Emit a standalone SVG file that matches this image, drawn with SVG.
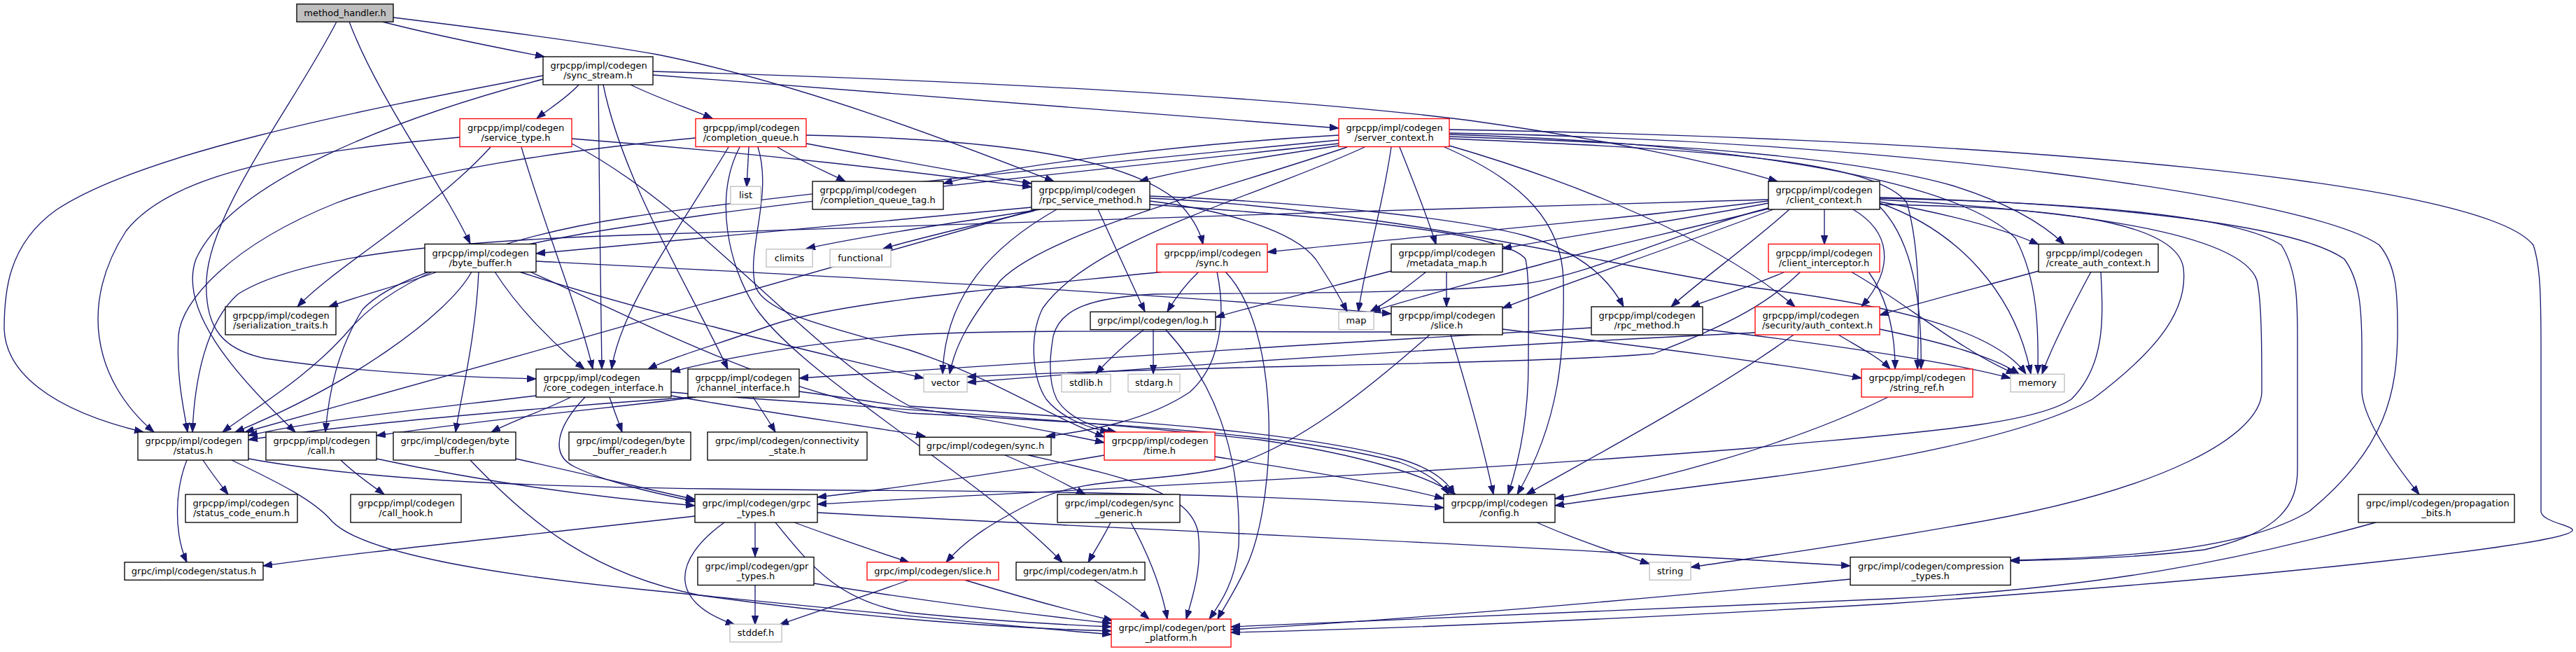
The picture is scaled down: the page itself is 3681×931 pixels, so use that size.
<svg xmlns="http://www.w3.org/2000/svg" width="3681" height="931" viewBox="0 0 3681 931">
<style>
.n rect{fill:#ffffff;stroke:#000000;stroke-width:1.33}
.n.ext rect{stroke:#bfbfbf}
.n.red rect{stroke:#ff0000}
.n.root rect{fill:#bfbfbf}
.n text{font-family:"DejaVu Sans","Liberation Sans",sans-serif;font-size:13px;fill:#000000}
.n text.c{text-anchor:middle}
#edges path{fill:none;stroke:#191970;stroke-width:1.33}
</style>
<defs>
<marker id="arr" markerWidth="14" markerHeight="10" refX="13" refY="4.7" orient="auto" markerUnits="userSpaceOnUse">
<path d="M0,0 L13,4.7 L0,9.4 z" fill="#191970" stroke="#191970" stroke-width="1"/>
</marker>
</defs>
<rect x="0" y="0" width="3681" height="931" fill="#ffffff"/>
<g id="edges" marker-end="url(#arr)">
<path d="M546,31 C620,50 710,68 778,81"/>
<path d="M499,31 C540,140 630,260 672,348"/>
<path d="M481,31 C420,150 300,300 295,400 C292,470 320,500 380,512 C500,530 640,538 766,541"/>
<path d="M562,25 C700,42 850,62 940,78 C1150,120 1380,210 1506,259"/>
<path d="M827,121 C810,140 785,155 767,169"/>
<path d="M901,121 C940,140 985,155 1018,169"/>
<path d="M933,107 C1300,135 1650,160 1913,183"/>
<path d="M933,102 C1400,115 1850,140 2100,172 C2300,200 2450,232 2540,259"/>
<path d="M776,113 C560,170 330,260 280,370 C255,440 330,530 422,617"/>
<path d="M862,121 C890,260 990,420 1040,527"/>
<path d="M855,121 C856,250 858,400 860,527"/>
<path d="M776,108 C500,160 200,220 80,300 C10,350 6,420 6,470 C8,530 70,585 205,617"/>
<path d="M657,196 C450,215 250,240 180,330 C115,430 130,540 220,617"/>
<path d="M701,210 C620,300 480,380 425,438"/>
<path d="M745,210 C780,330 830,450 847,527"/>
<path d="M817,198 C1100,220 1300,245 1474,267"/>
<path d="M817,205 C1000,300 1150,500 1300,580 C1600,600 1850,615 2000,655 C2050,670 2070,690 2078,706"/>
<path d="M994,197 C800,215 600,245 480,290 C330,350 258,430 255,480 C252,540 262,580 268,617"/>
<path d="M1041,210 C1000,280 930,380 900,447 C885,480 877,505 874,527"/>
<path d="M1070,210 C1069,230 1068,250 1067,267"/>
<path d="M1111,210 C1140,228 1180,245 1208,259"/>
<path d="M1152,205 C1260,225 1380,248 1474,262"/>
<path d="M1152,193 C1400,198 1600,220 1680,285 C1705,310 1715,330 1719,349"/>
<path d="M1083,210 C1105,280 1065,360 1080,410 C1095,450 1200,470 1300,500 C1420,540 1500,595 1578,624"/>
<path d="M1057,210 C1020,280 1040,380 1080,440 C1150,540 1400,680 1518,803"/>
<path d="M1913,193 C1700,205 1450,235 1348,262"/>
<path d="M1913,208 C1800,225 1700,240 1628,259"/>
<path d="M1913,200 C1500,240 1100,280 900,310 C700,340 560,400 500,470 C440,540 360,585 318,617"/>
<path d="M1913,205 C1500,250 1100,290 920,320 C700,352 565,392 518,442 C482,500 470,560 465,617"/>
<path d="M1988,210 C1975,300 1950,380 1941,445"/>
<path d="M2000,210 C2020,260 2040,310 2052,349"/>
<path d="M2064,210 C2180,260 2232,320 2234,400 C2236,500 2230,600 2168,706"/>
<path d="M1950,210 C1800,280 1560,340 1490,440 C1470,480 1475,540 1495,570 C1515,595 1550,610 1585,617"/>
<path d="M2071,208 C2250,260 2450,340 2565,438"/>
<path d="M2071,195 C2400,205 2650,225 2790,265 C2870,290 2920,320 2950,349"/>
<path d="M2071,198 C2400,212 2680,225 2725,290 C2745,360 2742,450 2740,527"/>
<path d="M2071,192 C2500,205 2800,260 2880,340 C2912,400 2913,470 2912,534"/>
<path d="M2071,190 C2700,200 3300,280 3400,350 C3425,380 3426,420 3426,470 C3426,560 3410,640 3300,730 C3200,790 3000,797 2873,800"/>
<path d="M2071,185 C2900,200 3550,260 3620,350 C3630,380 3631,420 3631,500 L3631,730 C3631,745 3676,750 3676,757 C3676,775 3300,820 2700,862 C2300,885 2000,898 1759,903"/>
<path d="M1925,210 C1750,270 1500,330 1430,400 C1390,450 1365,490 1357,534"/>
<path d="M2686,283 C3000,290 3200,310 3260,350 C3285,390 3283,440 3283,500 L3283,670 C3283,720 3260,760 3150,785 C3050,797 2950,799 2873,801"/>
<path d="M2686,282 C3000,290 3280,320 3350,370 C3372,400 3375,440 3375,500 L3375,560 C3378,600 3420,660 3457,706"/>
<path d="M2607,299 L2607,349"/>
<path d="M2527,290 C2400,315 2250,335 2147,355"/>
<path d="M2527,298 C2400,330 2280,355 2200,378 C2100,405 2020,425 1960,445"/>
<path d="M2534,299 C2400,350 2250,400 2147,440"/>
<path d="M2557,299 C2500,350 2430,400 2388,438"/>
<path d="M2648,299 C2700,330 2710,380 2660,438"/>
<path d="M2527,287 C2300,315 2000,340 1811,360"/>
<path d="M2527,285 C2000,300 1300,320 920,335 C600,345 420,370 340,420 C295,460 278,540 275,617"/>
<path d="M2686,292 C2900,295 3110,310 3120,383 C3128,450 3070,510 2990,570 C2900,620 2700,660 2500,685 C2380,700 2300,710 2222,722"/>
<path d="M2527,297 C2400,330 2280,390 2180,405 C2050,420 1800,418 1650,420 C1560,425 1515,440 1505,480 C1498,520 1500,550 1510,570 C1525,595 1560,610 1595,617"/>
<path d="M2686,295 C2730,340 2747,420 2745,527"/>
<path d="M2686,290 C2800,330 2880,420 2902,534"/>
<path d="M2686,285 C2950,300 3200,330 3225,400 C3232,430 3232,500 3232,560 C3230,620 3100,700 2800,750 C2600,785 2480,800 2416,810"/>
<path d="M2686,288 C2780,305 2860,325 2913,349"/>
<path d="M2551,388 C2500,410 2450,425 2416,438"/>
<path d="M2670,388 C2700,430 2708,480 2708,527"/>
<path d="M2645,388 C2720,430 2800,500 2880,534"/>
<path d="M2573,388 C2530,430 2480,460 2363,505 C2200,520 1700,522 1382,538"/>
<path d="M2913,387 C2830,410 2750,430 2686,450"/>
<path d="M2988,388 C2960,440 2930,500 2918,534"/>
<path d="M3002,388 C3005,450 3010,520 2960,570 C2900,610 2700,620 2500,640 C2000,680 1500,700 1168,720"/>
<path d="M2038,388 C2010,410 1985,430 1958,445"/>
<path d="M2067,388 L2067,438"/>
<path d="M1988,387 C1900,410 1800,435 1737,453"/>
<path d="M1713,388 C1695,405 1680,425 1668,445"/>
<path d="M1739,388 C1752,450 1745,520 1700,560 C1640,600 1560,615 1495,623"/>
<path d="M1751,388 C1830,470 1825,700 1785,800 C1768,840 1750,865 1740,884"/>
<path d="M1663,388 C1450,410 1200,430 1100,465 C1030,490 960,510 926,527"/>
<path d="M1634,471 C1610,490 1585,512 1566,534"/>
<path d="M1648,471 L1648,534"/>
<path d="M1666,471 C1730,540 1775,640 1770,780 C1765,830 1745,860 1728,884"/>
<path d="M993,737 C700,770 500,790 376,808"/>
<path d="M1079,746 L1079,795"/>
<path d="M1035,746 C960,800 955,860 1050,892"/>
<path d="M1135,746 C1200,770 1260,790 1299,803"/>
<path d="M1108,746 C1160,810 1200,860 1300,875 C1420,887 1520,892 1588,895"/>
<path d="M1168,732 C1600,755 2200,780 2644,808"/>
<path d="M1079,835 L1079,892"/>
<path d="M1163,833 C1300,855 1450,875 1588,890"/>
<path d="M1299,828 C1240,850 1170,872 1114,892"/>
<path d="M1378,828 C1450,850 1530,872 1590,886"/>
<path d="M1563,828 C1590,845 1620,865 1642,884"/>
<path d="M1587,746 C1578,765 1565,785 1555,803"/>
<path d="M1616,746 C1640,790 1660,840 1668,884"/>
<path d="M1434,649 C1480,668 1520,690 1551,706"/>
<path d="M1466,649 C1600,680 1700,700 1712,760 C1718,810 1705,850 1695,884"/>
<path d="M1578,650 C1430,675 1300,695 1168,710"/>
<path d="M1736,652 C1850,670 1980,690 2063,712"/>
<path d="M267,657 C250,700 248,760 267,803"/>
<path d="M290,657 C302,675 315,692 326,706"/>
<path d="M331,657 C400,690 450,715 475,745 C520,790 700,820 920,842 C1200,870 1450,895 1588,906"/>
<path d="M355,655 C550,690 800,697 1200,700 C1600,702 1900,710 2063,725"/>
<path d="M487,657 C505,675 530,692 549,706"/>
<path d="M538,655 C700,690 850,710 993,722"/>
<path d="M737,655 C850,680 930,700 993,713"/>
<path d="M672,657 C760,750 850,820 1000,850 C1250,885 1450,897 1588,901"/>
<path d="M871,567 C877,585 883,600 889,617"/>
<path d="M816,567 C780,585 735,600 702,617"/>
<path d="M836,567 C795,610 785,650 822,667 C870,690 940,705 993,716"/>
<path d="M959,565 C1100,590 1250,610 1322,623"/>
<path d="M959,560 C1200,580 1500,595 1800,628 C1950,650 2040,680 2080,706"/>
<path d="M766,565 C600,585 450,600 355,622"/>
<path d="M1076,567 C1088,585 1098,600 1108,617"/>
<path d="M990,567 C800,580 500,605 355,628"/>
<path d="M995,567 C900,580 750,592 538,622"/>
<path d="M1142,559 C1300,580 1450,605 1578,632"/>
<path d="M625,388 C580,405 520,420 470,438"/>
<path d="M674,388 C640,450 500,550 336,617"/>
<path d="M684,388 C680,480 660,560 651,617"/>
<path d="M707,388 C740,440 790,490 835,527"/>
<path d="M742,388 C900,440 1150,500 1320,540"/>
<path d="M757,388 C900,450 1100,560 1300,590 C1600,605 1850,620 2000,660 C2040,675 2060,690 2070,706"/>
<path d="M766,373 C1100,390 1600,415 1988,448"/>
<path d="M1487,299 C1350,320 1230,338 1152,355"/>
<path d="M1478,301 C1400,320 1320,338 1262,355"/>
<path d="M1643,287 C1750,300 1850,330 1880,370 C1900,400 1915,425 1925,445"/>
<path d="M1643,283 C2000,300 2300,380 2500,410 C2700,435 2850,470 2895,534"/>
<path d="M1510,299 C1420,350 1350,420 1347,534"/>
<path d="M1569,299 C1590,345 1615,400 1636,445"/>
<path d="M1474,296 C1200,320 950,345 766,362"/>
<path d="M1643,292 C1900,310 2150,330 2180,370 C2186,400 2184,450 2184,520 C2184,600 2170,660 2155,706"/>
<path d="M1643,280 C1900,290 2100,315 2181,337 C2260,360 2300,400 2320,438"/>
<path d="M1480,299 C1200,380 700,520 350,617"/>
<path d="M1988,474 C1700,474 1450,470 1300,478 C1150,490 1040,510 959,531"/>
<path d="M2147,470 C2350,495 2550,520 2660,540"/>
<path d="M2073,478 C2095,550 2118,630 2134,706"/>
<path d="M2043,478 C1950,560 1850,640 1750,668 C1650,690 1550,680 1480,715 C1420,745 1380,770 1352,803"/>
<path d="M2274,468 C1900,490 1500,515 1142,540"/>
<path d="M2433,470 C2600,490 2780,515 2873,540"/>
<path d="M2563,478 C2450,560 2280,650 2181,706"/>
<path d="M2627,478 C2655,495 2685,510 2701,527"/>
<path d="M2508,475 C2100,495 1700,520 1382,546"/>
<path d="M2686,470 C2780,490 2850,510 2885,534"/>
<path d="M2698,567 C2550,640 2350,690 2222,712"/>
<path d="M2196,746 C2250,770 2310,790 2357,805"/>
<path d="M3395,746 C3200,800 3000,840 2700,855 C2300,870 2000,885 1759,895"/>
<path d="M2644,827 C2300,860 2000,885 1759,899"/>
</g>
<g id="node-method_handler" class="n root"><rect x="424" y="5.8" width="138" height="25.4"/><text class="c" x="493" y="22.5">method_handler.h</text></g>
<g id="node-sync_stream" class="n"><rect x="776" y="81" width="157" height="40"/><text x="786.5" y="98">grpcpp/impl/codegen</text><text class="c" x="854.5" y="112">/sync_stream.h</text></g>
<g id="node-service_type" class="n red"><rect x="657" y="169.5" width="160" height="40"/><text x="668" y="186.5">grpcpp/impl/codegen</text><text class="c" x="737" y="200.5">/service_type.h</text></g>
<g id="node-completion_queue" class="n red"><rect x="994" y="169.5" width="158" height="40"/><text x="1004.5" y="186.5">grpcpp/impl/codegen</text><text class="c" x="1073" y="200.5">/completion_queue.h</text></g>
<g id="node-server_context" class="n red"><rect x="1913" y="169.5" width="158" height="40"/><text x="1923.5" y="186.5">grpcpp/impl/codegen</text><text class="c" x="1992" y="200.5">/server_context.h</text></g>
<g id="node-completion_queue_tag" class="n"><rect x="1161" y="259" width="187" height="40"/><text x="1171.5" y="276">grpcpp/impl/codegen</text><text class="c" x="1254.5" y="290">/completion_queue_tag.h</text></g>
<g id="node-list" class="n ext"><rect x="1044" y="266.3" width="43" height="25.4"/><text class="c" x="1065.5" y="283">list</text></g>
<g id="node-rpc_service_method" class="n"><rect x="1474" y="259" width="169" height="40"/><text x="1484.5" y="276">grpcpp/impl/codegen</text><text class="c" x="1558.5" y="290">/rpc_service_method.h</text></g>
<g id="node-client_context" class="n"><rect x="2527" y="259" width="159" height="40"/><text x="2537.5" y="276">grpcpp/impl/codegen</text><text class="c" x="2606.5" y="290">/client_context.h</text></g>
<g id="node-climits" class="n ext"><rect x="1095" y="355.8" width="66" height="25.4"/><text class="c" x="1128" y="372.5">climits</text></g>
<g id="node-functional" class="n ext"><rect x="1186" y="355.8" width="87" height="25.4"/><text class="c" x="1229.5" y="372.5">functional</text></g>
<g id="node-byte_buffer" class="n"><rect x="607" y="348.5" width="159" height="40"/><text x="617.5" y="365.5">grpcpp/impl/codegen</text><text class="c" x="686.5" y="379.5">/byte_buffer.h</text></g>
<g id="node-sync" class="n red"><rect x="1653" y="348.5" width="158" height="40"/><text x="1663.5" y="365.5">grpcpp/impl/codegen</text><text class="c" x="1732" y="379.5">/sync.h</text></g>
<g id="node-metadata_map" class="n"><rect x="1988" y="348.5" width="159" height="40"/><text x="1998.5" y="365.5">grpcpp/impl/codegen</text><text class="c" x="2067.5" y="379.5">/metadata_map.h</text></g>
<g id="node-client_interceptor" class="n red"><rect x="2527" y="348.5" width="159" height="40"/><text x="2537.5" y="365.5">grpcpp/impl/codegen</text><text class="c" x="2606.5" y="379.5">/client_interceptor.h</text></g>
<g id="node-create_auth_context" class="n"><rect x="2913" y="348.5" width="171" height="40"/><text x="2923.5" y="365.5">grpcpp/impl/codegen</text><text class="c" x="2998.5" y="379.5">/create_auth_context.h</text></g>
<g id="node-serialization_traits" class="n"><rect x="322" y="438" width="158" height="40"/><text x="332.5" y="455">grpcpp/impl/codegen</text><text class="c" x="401" y="469">/serialization_traits.h</text></g>
<g id="node-log" class="n"><rect x="1558" y="445.3" width="179" height="25.4"/><text class="c" x="1647.5" y="462">grpc/impl/codegen/log.h</text></g>
<g id="node-map" class="n ext"><rect x="1913" y="445.3" width="50" height="25.4"/><text class="c" x="1938" y="462">map</text></g>
<g id="node-slice" class="n"><rect x="1988" y="438" width="159" height="40"/><text x="1998.5" y="455">grpcpp/impl/codegen</text><text class="c" x="2067.5" y="469">/slice.h</text></g>
<g id="node-rpc_method" class="n"><rect x="2274" y="438" width="159" height="40"/><text x="2284.5" y="455">grpcpp/impl/codegen</text><text class="c" x="2353.5" y="469">/rpc_method.h</text></g>
<g id="node-auth_context" class="n red"><rect x="2508" y="438" width="178" height="40"/><text x="2518.5" y="455">grpcpp/impl/codegen</text><text class="c" x="2597" y="469">/security/auth_context.h</text></g>
<g id="node-core_codegen_interface" class="n"><rect x="766" y="527" width="193" height="40"/><text x="776.5" y="544">grpcpp/impl/codegen</text><text class="c" x="862.5" y="558">/core_codegen_interface.h</text></g>
<g id="node-channel_interface" class="n"><rect x="983" y="527" width="159" height="40"/><text x="993.5" y="544">grpcpp/impl/codegen</text><text class="c" x="1062.5" y="558">/channel_interface.h</text></g>
<g id="node-vector" class="n ext"><rect x="1320" y="534.3" width="62" height="25.4"/><text class="c" x="1351" y="551">vector</text></g>
<g id="node-stdlib" class="n ext"><rect x="1517" y="534.3" width="70" height="25.4"/><text class="c" x="1552" y="551">stdlib.h</text></g>
<g id="node-stdarg" class="n ext"><rect x="1612" y="534.3" width="74" height="25.4"/><text class="c" x="1649" y="551">stdarg.h</text></g>
<g id="node-string_ref" class="n red"><rect x="2660" y="527" width="159" height="40"/><text x="2670.5" y="544">grpcpp/impl/codegen</text><text class="c" x="2739.5" y="558">/string_ref.h</text></g>
<g id="node-memory" class="n ext"><rect x="2873" y="534.3" width="77" height="25.4"/><text class="c" x="2911.5" y="551">memory</text></g>
<g id="node-status" class="n"><rect x="197" y="617" width="158" height="40"/><text x="207.5" y="634">grpcpp/impl/codegen</text><text class="c" x="276" y="648">/status.h</text></g>
<g id="node-call" class="n"><rect x="380" y="617" width="158" height="40"/><text x="390.5" y="634">grpcpp/impl/codegen</text><text class="c" x="459" y="648">/call.h</text></g>
<g id="node-grpc_byte_buffer" class="n"><rect x="562" y="617" width="175" height="40"/><text x="572.5" y="634">grpc/impl/codegen/byte</text><text class="c" x="649.5" y="648">_buffer.h</text></g>
<g id="node-byte_buffer_reader" class="n"><rect x="813" y="617" width="174" height="40"/><text x="823.5" y="634">grpc/impl/codegen/byte</text><text class="c" x="900" y="648">_buffer_reader.h</text></g>
<g id="node-connectivity_state" class="n"><rect x="1011" y="617" width="228" height="40"/><text x="1022" y="634">grpc/impl/codegen/connectivity</text><text class="c" x="1125" y="648">_state.h</text></g>
<g id="node-grpc_sync" class="n"><rect x="1314" y="624.3" width="188" height="25.4"/><text class="c" x="1408" y="641">grpc/impl/codegen/sync.h</text></g>
<g id="node-time" class="n red"><rect x="1578" y="617" width="158" height="40"/><text x="1588.5" y="634">grpcpp/impl/codegen</text><text class="c" x="1657" y="648">/time.h</text></g>
<g id="node-status_code_enum" class="n"><rect x="265" y="706" width="160" height="40"/><text x="275.5" y="723">grpcpp/impl/codegen</text><text class="c" x="345" y="737">/status_code_enum.h</text></g>
<g id="node-call_hook" class="n"><rect x="501" y="706" width="158" height="40"/><text x="511.5" y="723">grpcpp/impl/codegen</text><text class="c" x="580" y="737">/call_hook.h</text></g>
<g id="node-grpc_types" class="n"><rect x="993" y="706" width="175" height="40"/><text x="1003.5" y="723">grpc/impl/codegen/grpc</text><text class="c" x="1080.5" y="737">_types.h</text></g>
<g id="node-sync_generic" class="n"><rect x="1511" y="706" width="175" height="40"/><text x="1521.5" y="723">grpc/impl/codegen/sync</text><text class="c" x="1598.5" y="737">_generic.h</text></g>
<g id="node-config" class="n"><rect x="2063" y="706" width="159" height="40"/><text x="2073.5" y="723">grpcpp/impl/codegen</text><text class="c" x="2142.5" y="737">/config.h</text></g>
<g id="node-propagation_bits" class="n"><rect x="3370" y="706" width="223" height="40"/><text x="3381" y="723">grpc/impl/codegen/propagation</text><text class="c" x="3481.5" y="737">_bits.h</text></g>
<g id="node-grpc_status" class="n"><rect x="178" y="802.8" width="198" height="25.4"/><text class="c" x="277" y="819.5">grpc/impl/codegen/status.h</text></g>
<g id="node-gpr_types" class="n"><rect x="997" y="795.5" width="166" height="40"/><text x="1007.5" y="812.5">grpc/impl/codegen/gpr</text><text class="c" x="1080" y="826.5">_types.h</text></g>
<g id="node-grpc_slice" class="n red"><rect x="1239" y="802.8" width="188" height="25.4"/><text class="c" x="1333" y="819.5">grpc/impl/codegen/slice.h</text></g>
<g id="node-atm" class="n"><rect x="1452" y="802.8" width="184" height="25.4"/><text class="c" x="1544" y="819.5">grpc/impl/codegen/atm.h</text></g>
<g id="node-string" class="n ext"><rect x="2357" y="802.8" width="59" height="25.4"/><text class="c" x="2386.5" y="819.5">string</text></g>
<g id="node-compression_types" class="n"><rect x="2644" y="795.5" width="229" height="40"/><text x="2655" y="812.5">grpc/impl/codegen/compression</text><text class="c" x="2758.5" y="826.5">_types.h</text></g>
<g id="node-stddef" class="n ext"><rect x="1043" y="891.3" width="74" height="25.4"/><text class="c" x="1080" y="908">stddef.h</text></g>
<g id="node-port_platform" class="n red"><rect x="1588" y="884" width="171" height="40"/><text x="1598.5" y="901">grpc/impl/codegen/port</text><text class="c" x="1673.5" y="915">_platform.h</text></g>
</svg>
